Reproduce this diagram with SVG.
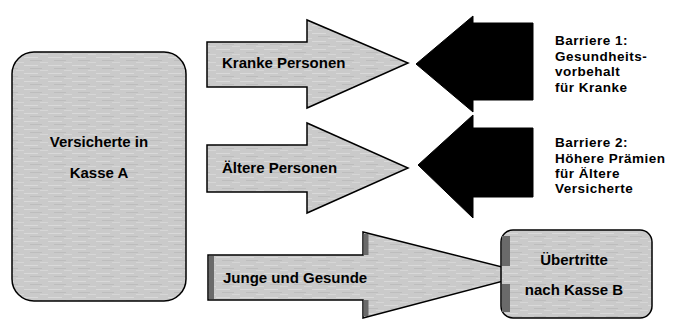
<svg xmlns="http://www.w3.org/2000/svg" width="682" height="320" viewBox="0 0 682 320">
<defs>
<pattern id="tex" width="24" height="8" patternUnits="userSpaceOnUse">
<rect width="24" height="8" fill="#cacaca"/>
<rect x="0" y="1" width="14" height="1" fill="#d9d9d9"/>
<rect x="6" y="4" width="12" height="1" fill="#bdbdbd"/>
<rect x="16" y="6" width="8" height="1" fill="#d6d6d6"/>
</pattern>
<style>
.shape{fill:url(#tex);stroke:#000;stroke-width:1.5;stroke-linejoin:miter}
.block{fill:#000;stroke:#000;stroke-width:1}
.dark{fill:#6a6a6a}
text{font-family:"Liberation Sans",Arial,Helvetica,sans-serif;font-weight:bold;font-size:15px;fill:#000}
.c{text-anchor:middle}
.b{font-size:13.5px;letter-spacing:0.5px}
</style>
</defs>
<rect width="682" height="320" fill="#fff"/>

<g id="kasseA">
<rect class="shape" x="12" y="52" width="174" height="249" rx="22" ry="22"/>
<text class="c" x="99" y="147">Versicherte in</text>
<text class="c" x="99" y="178">Kasse A</text>
</g>

<g id="connectors">
<g id="arrow-kranke">
<polygon class="shape" points="207,42 307,42 307,20 408,63 307,108 307,87 207,87"/>
<text x="222" y="68">Kranke Personen</text>
</g>
<g id="arrow-aeltere">
<polygon class="shape" points="207,145 307,145 307,123 408,168 307,213 307,192 207,192"/>
<text x="222" y="173">Ältere Personen</text>
</g>
<g id="arrow-junge">
<polygon class="shape" points="208,255 363,255 363,232 530,274 363,318 363,300 208,300"/>
<rect class="dark" x="209" y="256" width="5" height="43"/>
<rect class="dark" x="363.5" y="234" width="5" height="21"/>
<rect class="dark" x="363.5" y="300" width="5" height="16"/>
<text x="223" y="283">Junge und Gesunde</text>
</g>
</g>

<g id="barriere1">
<polygon class="block" points="416,64 473,16 473,23 533,23 533,100 473,100 473,112"/>
<text class="b" x="555" y="45">Barriere 1:</text>
<text class="b" x="555" y="61">Gesundheits-</text>
<text class="b" x="555" y="76">vorbehalt</text>
<text class="b" x="555" y="92">für Kranke</text>
</g>

<g id="barriere2">
<polygon class="block" points="418,165 473,115 473,128 533,128 533,197 473,197 473,218"/>
<text class="b" x="555" y="147">Barriere 2:</text>
<text class="b" x="555" y="163">Höhere Prämien</text>
<text class="b" x="555" y="178">für Ältere</text>
<text class="b" x="555" y="193">Versicherte</text>
</g>

<g id="kasseB">
<rect class="shape" x="501" y="230" width="151" height="88" rx="12" ry="12"/>
<rect class="dark" x="502" y="236" width="8" height="30"/>
<rect class="dark" x="502" y="284" width="8" height="28"/>
<text class="c" x="574" y="265">Übertritte</text>
<text class="c" x="574" y="295">nach Kasse B</text>
</g>
</svg>
